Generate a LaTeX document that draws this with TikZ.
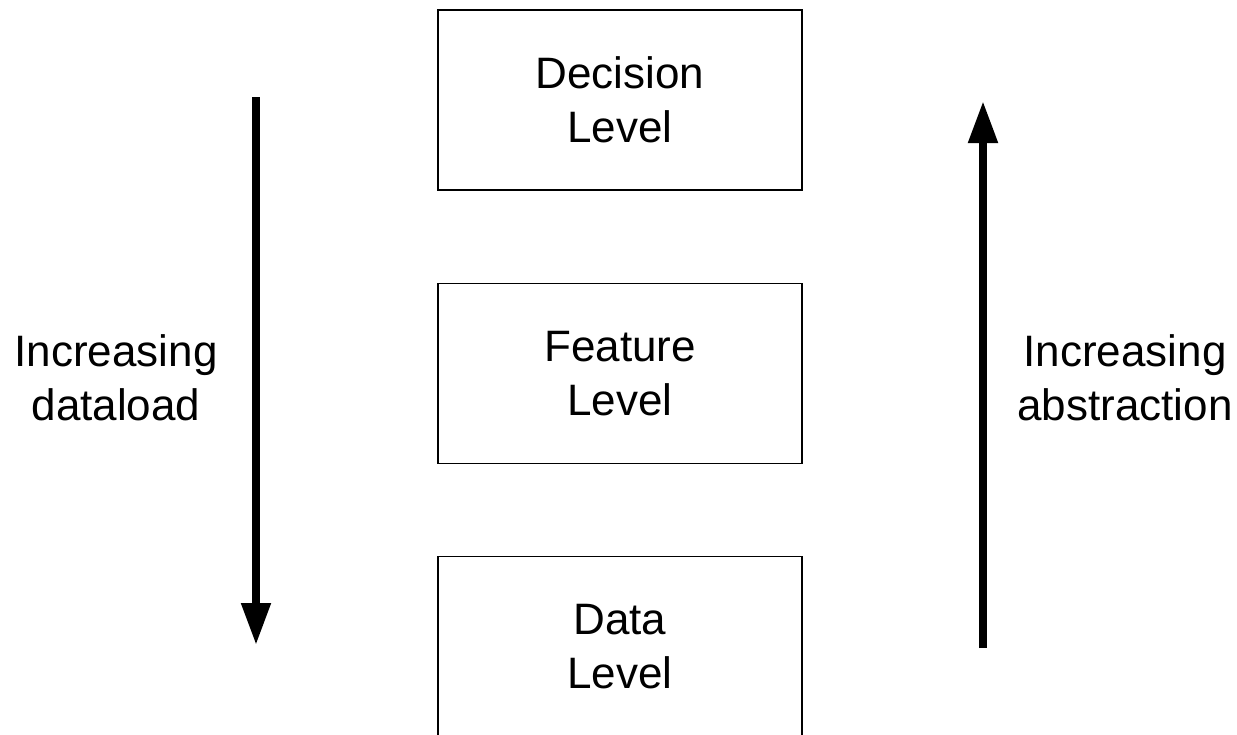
\documentclass[tikz,border=0pt]{standalone}
\usepackage{fontspec}
\setmainfont{Liberation Sans}
\usetikzlibrary{arrows.meta, positioning}
\tikzset{
  level/.style={draw, line width=1.2pt, rectangle, minimum width=364pt, minimum height=180pt, align=center},
  label/.style={align=center},
  trend/.style={-{Triangle[length=42pt, width=28pt]}, line width=8pt},
}

\begin{document}
\begin{tikzpicture}[x=1pt, y=-1pt, node distance=92pt, font=\fontsize{44}{54}\selectfont]
  \useasboundingbox (0,0) rectangle (1237,734);

  % the three fusion levels, top to bottom
  \node[level] (decision) at (620,100) {Decision\\Level};
  \node[level, below=of decision] (feature) {Feature\\Level};
  \node[level, below=of feature] (data) {Data\\Level};

  % side labels
  \node[label] (dataload) at (116,378) {Increasing\\dataload};
  \node[label] (abstraction) at (1125,378) {Increasing\\abstraction};

  % arrow ends
  \coordinate (dl-top) at (256,97);
  \coordinate (dl-bot) at (256,645);
  \coordinate (ab-bot) at (983,648);
  \coordinate (ab-top) at (983,101);

  \draw[trend] (dl-top) -- (dl-bot);
  \draw[trend] (ab-bot) -- (ab-top);
\end{tikzpicture}
\end{document}
